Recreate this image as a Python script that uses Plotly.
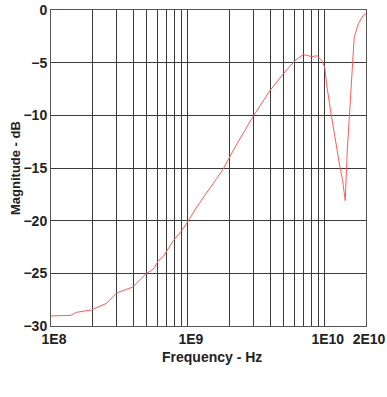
import plotly.graph_objects as go

freq_hz = [1.0e8, 1.38e8, 1.54e8, 1.98e8, 2.55e8, 3.02e8, 3.47e8, 3.96e8, 4.47e8, 4.94e8,
           5.59e8, 6.08e8, 6.61e8, 7.82e8, 9.01e8, 1.01e9, 1.16e9, 1.37e9, 1.62e9, 1.81e9,
           2.15e9, 2.92e9, 3.98e9, 4.98e9, 6.06e9, 6.96e9, 7.45e9, 8.02e9, 8.81e9, 9.49e9,
           1.0e10, 1.03e10, 1.10e10, 1.15e10, 1.22e10, 1.29e10, 1.35e10, 1.41e10, 1.46e10,
           1.53e10, 1.59e10, 1.64e10, 1.76e10, 1.91e10, 2.0e10]
magnitude_db = [-29.04, -29.0, -28.7, -28.47, -27.84, -26.86, -26.57, -26.3, -25.6, -25.05,
                -24.6, -23.8, -23.4, -21.9, -20.94, -20.0, -18.7, -17.3, -16.0, -15.1,
                -13.3, -10.33, -7.64, -6.06, -4.8, -4.23, -4.32, -4.42, -4.35, -4.8,
                -5.43, -7.0, -9.5, -11.1, -13.3, -14.9, -16.2, -18.1, -13.3,
                -8.6, -4.8, -2.6, -1.3, -0.52, -0.36]

grid_freqs = [1e8, 2e8, 3e8, 4e8, 5e8, 6e8, 7e8, 8e8, 9e8,
              1e9, 2e9, 3e9, 4e9, 5e9, 6e9, 7e9, 8e9, 9e9, 1e10, 2e10]
grid_labels = ["1E8", "", "", "", "", "", "", "", "",
               "1E9", "", "", "", "", "", "", "", "", "1E10", "2E10"]
y_ticks = [0, -5, -10, -15, -20, -25, -30]
x_title = "Frequency - Hz"
y_title = "Magnitude - dB"

FONT = "Liberation Sans, Arial, sans-serif"

fig = go.Figure()
fig.add_trace(go.Scatter(x=freq_hz, y=magnitude_db, mode="lines",
                         line=dict(color="#ff5a5a", width=1), showlegend=False))

fig.update_layout(
    width=387, height=397,
    margin=dict(l=51, r=21, t=10, b=71, autoexpand=False),
    paper_bgcolor="white", plot_bgcolor="white",
    font=dict(family=FONT, color="#222", size=14),
)
fig.update_xaxes(
    type="log", range=[8, 10.30103], automargin=False,
    tickmode="array", tickvals=grid_freqs, ticktext=grid_labels,
    showgrid=True, gridcolor="#3a3a3a", gridwidth=1,
    showline=True, linecolor="#555", linewidth=1, mirror=True,
    ticks="", zeroline=False, ticklabelshift=3,
    tickfont=dict(size=14, family=FONT, weight="bold", color="#222"),
)
fig.update_yaxes(
    range=[-30, 0], tickmode="array", tickvals=y_ticks, automargin=False,
    showgrid=True, gridcolor="#3a3a3a", gridwidth=1,
    showline=True, linecolor="#555", linewidth=1, mirror=True,
    ticks="", zeroline=False,
    tickfont=dict(size=14, family=FONT, weight="bold", color="#222"),
)
fig.add_annotation(text="<b>" + x_title + "</b>", xref="paper", yref="paper",
                   x=0.5, y=0, xshift=3, yshift=-31, xanchor="center", yanchor="middle",
                   showarrow=False, font=dict(size=14, family=FONT, color="#222"))
fig.add_annotation(text="<b>" + y_title + "</b>", xref="paper", yref="paper",
                   x=0, y=0.5, xshift=-36, yshift=0, xanchor="center", yanchor="middle",
                   textangle=-90, showarrow=False,
                   font=dict(size=13, family=FONT, color="#222"))

fig.write_html("out.html", config={"displayModeBar": False},
               post_script="document.body.style.margin='0';")
